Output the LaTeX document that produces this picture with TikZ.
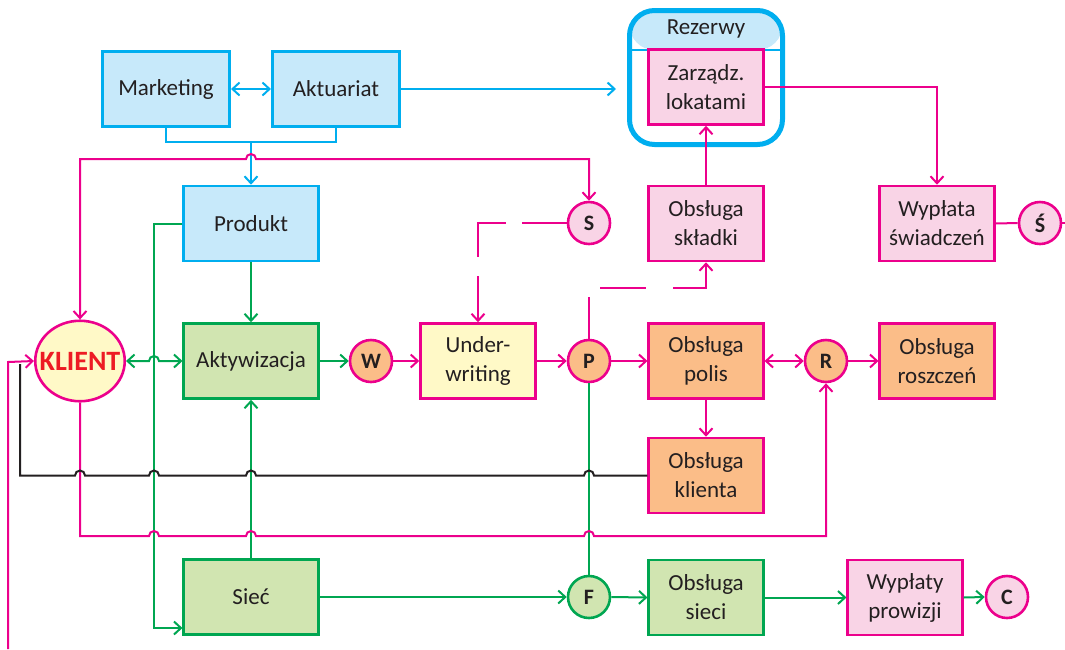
\documentclass[tikz,border=0pt]{standalone}
\usepackage{fontspec}
\setmainfont{Carlito}
\usetikzlibrary{arrows.meta,shapes.geometric}
\definecolor{cblue}{HTML}{00AEEF}
\definecolor{lblue}{HTML}{C7E9FA}
\definecolor{mag}{HTML}{EC008C}
\definecolor{lpink}{HTML}{F9D4E6}
\definecolor{grn}{HTML}{00A651}
\definecolor{lgrn}{HTML}{D1E5B1}
\definecolor{lorange}{HTML}{FBBD88}
\definecolor{lyellow}{HTML}{FFF9C7}
\definecolor{kred}{HTML}{ED1C24}
\definecolor{txt}{HTML}{231F20}
\newcommand\myjump[2]{-- (#1-5,#2) arc[start angle=180,end angle=0,radius=5pt]}
\begin{document}
\begin{tikzpicture}[x=1pt,y=1pt,
  font=\fontsize{23}{29}\selectfont,
  tip/.tip={Straight Barb[length=7pt,width=13pt]},
  box/.style={draw, line width=2.6pt, minimum width=114.5pt, minimum height=75pt, align=center, text=txt, inner sep=2pt},
  wbox/.style={box, minimum width=134.5pt},
  mbox/.style={box, minimum width=127.5pt},
  bluebox/.style={draw=cblue, fill=lblue},
  pinkbox/.style={draw=mag, fill=lpink},
  orbox/.style={draw=mag, fill=lorange},
  ylbox/.style={draw=mag, fill=lyellow},
  grbox/.style={draw=grn, fill=lgrn},
  circ/.style={circle, draw, line width=2.6pt, minimum size=42pt, inner sep=0pt, text=txt, font=\fontsize{22}{24}\selectfont\bfseries},
  conn/.style={line width=2pt, arrows={-tip}},
  pk/.style={conn, draw=mag},
  gr/.style={conn, draw=grn},
  bl/.style={conn, draw=cblue},
  bk/.style={line width=2pt, draw=txt},
]
\useasboundingbox (0,0) rectangle (1065,-649);

% Rezerwy container
\node[draw=cblue, line width=5pt, rounded corners=25pt, minimum width=153pt, minimum height=134pt, inner sep=0pt,
  path picture={\fill[lblue] (path picture bounding box.north west) rectangle ([yshift=-39.5pt]path picture bounding box.north east);}]
  (rez) at (706,-77.5) {};
\draw[cblue, line width=1.5pt] (rez.west |- 0,-50) -- (rez.east |- 0,-50);
\node[text=txt] (reztxt) at (706,-29) {Rezerwy};

% boxes
\node[mbox, bluebox] (mark) at (166,-89) {Marketing};
\node[mbox, bluebox] (akt) at (336,-89) {Aktuariat};
\node[wbox, bluebox] (prod) at (251,-223.5) {Produkt};
\node[wbox, grbox] (aktyw) at (251,-361) {Aktywizacja};
\node[wbox, grbox] (siec) at (251,-597) {Sieć};
\node[box, ylbox, minimum width=115pt] (uw) at (478,-361) {Under-\\writing};
\node[box, orbox] (pol) at (706,-361) {Obsługa\\polis};
\node[box, pinkbox] (skl) at (706,-223.5) {Obsługa\\składki};
\node[box, pinkbox] (lok) at (706,-87) {Zarządz.\\lokatami};
\node[box, orbox] (kl) at (706,-475.5) {Obsługa\\klienta};
\node[box, grbox] (os) at (706,-597.5) {Obsługa\\sieci};
\node[box, orbox] (rosz) at (937,-361) {Obsługa\\roszczeń};
\node[box, pinkbox] (wypl) at (937,-223.5) {Wypłata\\świadczeń};
\node[box, pinkbox] (prow) at (905,-597.5) {Wypłaty\\prowizji};

% circles
\node[circ, draw=mag, fill=lorange] (W) at (371,-361) {W};
\node[circ, draw=mag, fill=lorange] (P) at (589,-361) {P};
\node[circ, draw=mag, fill=lpink] (S) at (589,-223) {S};
\node[circ, draw=mag, fill=lorange] (R) at (826,-361) {R};
\node[circ, draw=grn, fill=lgrn] (F) at (589,-597) {F};
\node[circ, draw=mag, fill=lpink] (C) at (1007,-597) {C};
\node[circ, draw=mag, fill=lpink] (SS) at (1040,-223) {Ś};
\node[ellipse, draw=mag, fill=lyellow, line width=2.6pt, minimum width=89.5pt, minimum height=80.5pt, inner sep=0pt] (K) at (80,-361) {};
\node[text=kred, font=\fontsize{28}{32}\selectfont\bfseries, inner sep=0pt] (Ktxt) at (K.center) {KLIENT};

% blue connectors
\draw[bl, tip-tip] (mark.east) -- (akt.west);
\draw[line width=2pt, cblue] (mark.south) -- (166,-142) -- (336,-142) -- (akt.south);
\draw[bl] (251,-142) -- (prod.north);
\draw[bl] (akt.east) -- ([xshift=-11pt]rez.west |- akt.east);

% pink top line
\draw[pk, tip-tip] (K.north) -- (80,-159) \myjump{251}{-159} -- (589,-159) -- (S.north);

% green connectors
\draw[gr] (prod.west) -- (154,-223.5) -- (154,-628) -- (siec.west |- 0,-628);
\draw[gr] (prod.south) -- (aktyw.north);
\draw[gr, tip-tip] (K.east) \myjump{154}{-361} -- (aktyw.west);
\draw[gr] (siec.north) -- (aktyw.south);
\draw[gr] (aktyw.east) -- (W.west);
\draw[line width=2pt, grn] (P.south) -- (F.north);
\draw[gr] (siec.east) -- (F.west);
\draw[gr] (F.east) -- (os.west);
\draw[gr] (os.east) -- (prow.west);
\draw[gr] (prow.east) -- (C.west);

% pink connectors
\draw[pk] (W.east) -- (uw.west);
\draw[pk] (uw.east) -- (P.west);
\draw[pk] (P.east) -- (pol.west);
\draw[pk, tip-tip] (pol.east) -- (R.west);
\draw[pk] (R.east) -- (rosz.west);
\draw[pk] (pol.south) -- (kl.north);
\draw[pk] (skl.north) -- (lok.south);
\draw[pk] (lok.east) -- (937,-87) -- (wypl.north);
\draw[line width=2pt, mag] (wypl.east) -- (SS.west);
\draw[line width=2pt, mag] (SS.east) -- (1065,-223);
\draw[pk, dash pattern=on 45pt off 16pt on 62pt off 19pt on 60pt] (S.west) -- (uw.north |- S.west) -- (uw.north);
\draw[pk, dash pattern=on 42pt off 20pt on 46pt off 27pt on 70pt] (P.north) -- (589,-288) -- (706,-288) -- (skl.south);
\draw[pk] (K.south) -- (80,-536) \myjump{154}{-536} \myjump{251}{-536} \myjump{589}{-536} -- (826,-536) -- (R.south);
\draw[pk] (8,-649) -- (8,-362) -- (K.west);

% black connector
\draw[bk] (20,-364) -- (20,-475.5) \myjump{80}{-475.5} \myjump{154}{-475.5} \myjump{251}{-475.5} \myjump{589}{-475.5} -- (kl.west);
\end{tikzpicture}
\end{document}
